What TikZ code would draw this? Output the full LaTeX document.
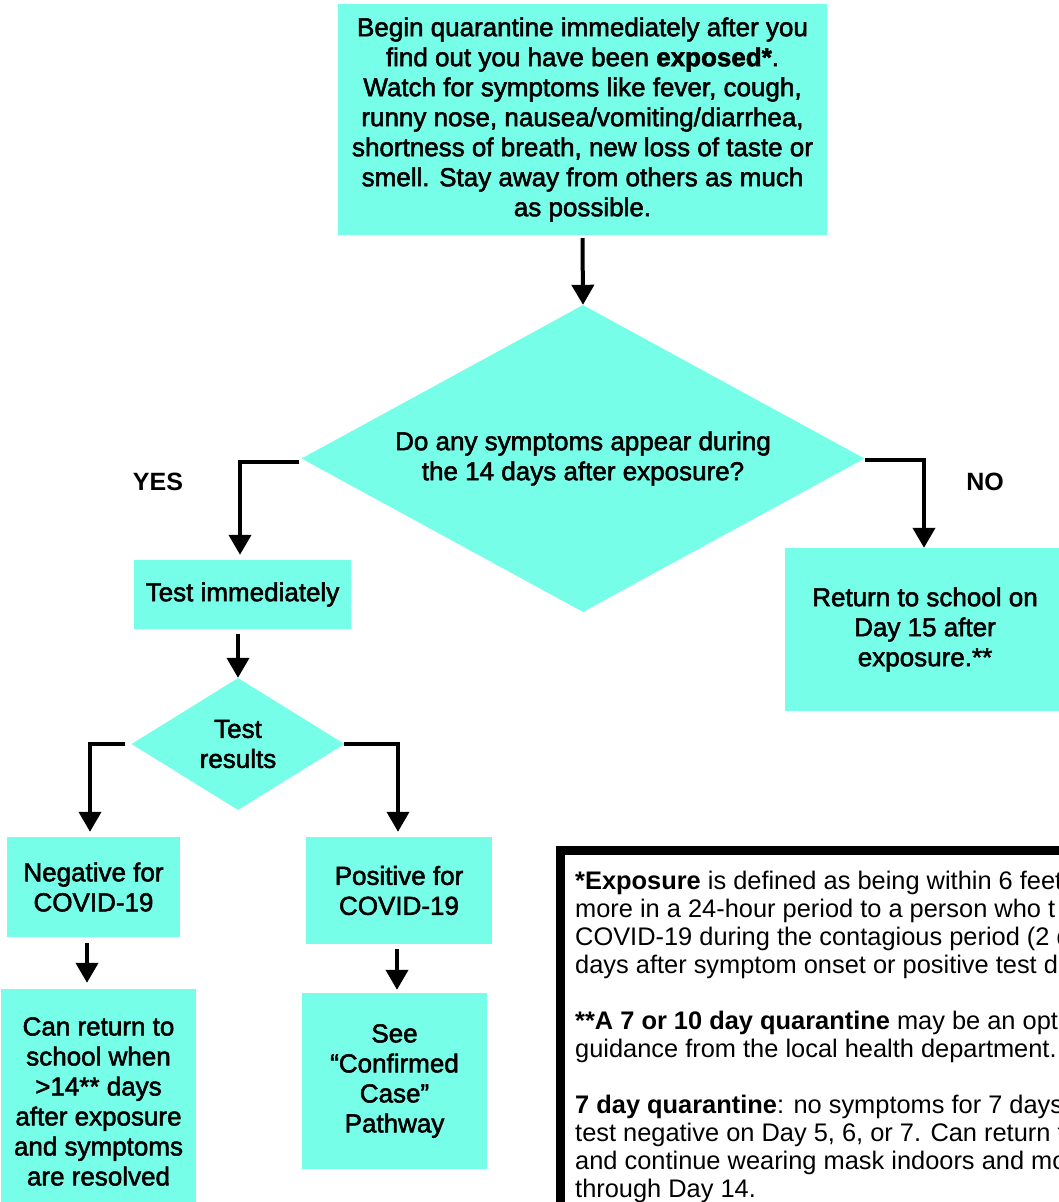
\documentclass[tikz,border=0pt]{standalone}
\usepackage{fontspec}
\setmainfont{Liberation Sans}
\newfontfamily\medf{Liberation Sans}[FakeBold=2]
\usetikzlibrary{arrows.meta,shapes.geometric}
\definecolor{aqua}{RGB}{118,254,233}
\begin{document}
\begin{tikzpicture}[x=1pt,y=-1pt,
  box/.style={fill=aqua, inner sep=0pt, align=center, font=\medf\fontsize{26}{30}\selectfont},
  dia/.style={diamond, fill=aqua, inner sep=0pt, align=center, font=\medf\fontsize{26}{30}\selectfont},
  arr/.style={line width=4pt, -{Triangle[width=22pt,length=20pt]}},
  lab/.style={font=\bfseries\fontsize{25}{30}\selectfont, inner sep=0pt},
  notetext/.style={font=\fontsize{25.4}{28}\selectfont, align=left, inner sep=0pt, anchor=north west}]
\useasboundingbox (0,0) rectangle (1059,1202);
\clip (0,0) rectangle (1059,1202);
\fill[white] (0,0) rectangle (1059,1202);

\node[box, minimum width=489pt, minimum height=231pt] (top) at (582.5,119.5)
  {Begin quarantine immediately after you\\find out you have been \textbf{exposed*}.\\Watch for symptoms like fever, cough,\\runny nose, nausea/vomiting/diarrhea,\\shortness of breath, new loss of taste or\\smell. Stay away from others as much\\as possible.};

\node[dia, shape aspect=1.834, minimum width=563pt, minimum height=307pt] (q) at (583,458.5)
  {Do any symptoms appear during\\the 14 days after exposure?};

\node[box, minimum width=217pt, minimum height=69pt] (test) at (242.5,594.5) {Test immediately};

\node[dia, shape aspect=1.61, minimum width=213pt, minimum height=132pt] (r) at (238,744) {Test\\results};

\node[box, minimum width=173pt, minimum height=100pt] (neg) at (93.5,887) {Negative for\\COVID-19};
\node[box, minimum width=195pt, minimum height=225pt] (can) at (98.5,1101.5)
  {Can return to\\school when\\>14** days\\after exposure\\and symptoms\\are resolved};
\node[box, minimum width=186pt, minimum height=107pt] (pos) at (399,890.5) {Positive for\\COVID-19};
\node[box, minimum width=185pt, minimum height=176pt] (see) at (394.5,1081)
  {See\\“Confirmed\\Case”\\Pathway};
\node[box, minimum width=280pt, minimum height=163pt] (ret) at (925,629.5)
  {Return to school on\\Day 15 after\\exposure.**};

\node[lab] (yes) at (158,482) {YES};
\node[lab] (no) at (985,482) {NO};

\draw[arr] ([shift={(0,3)}]top.south) -- (q.north);
\draw[arr] ([shift={(-2,3.5)}]q.west) -| ([shift={(-2.5,-5)}]test.north);
\draw[arr] ([shift={(0,5)}]test.south -| r.north) -- (r.north);
\draw[arr] ([shift={(-6,0)}]r.west) -| ([shift={(-3.5,-5)}]neg.north);
\draw[arr] ([shift={(-1,0)}]r.east) -| ([shift={(-1,-5)}]pos.north);
\draw[arr] ([shift={(-6.5,6)}]neg.south) -- ([shift={(-11.5,-6)}]can.north);
\draw[arr] ([shift={(-2,5)}]pos.south) -- ([shift={(2.5,-3)}]see.north);
\draw[arr] ([shift={(0,1.5)}]q.east) -| ([shift={(-1,0)}]ret.north);

\draw[line width=9pt] (560.5,850.5) rectangle (1090,1230);
\node[notetext] (note) at (575,870.5)
  {\textbf{*Exposure} is defined as being within 6 feet\\
   more in a 24-hour period to a person who t\\
   COVID-19 during the contagious period (2 d\\
   days after symptom onset or positive test d\\[28pt]
   \textbf{**A 7 or 10 day quarantine} may be an opti\\
   guidance from the local health department.\\[28pt]
   \textbf{7 day quarantine}: no symptoms for 7 days\\
   test negative on Day 5, 6, or 7. Can return t\\
   and continue wearing mask indoors and mo\\
   through Day 14.};
\end{tikzpicture}
\end{document}
